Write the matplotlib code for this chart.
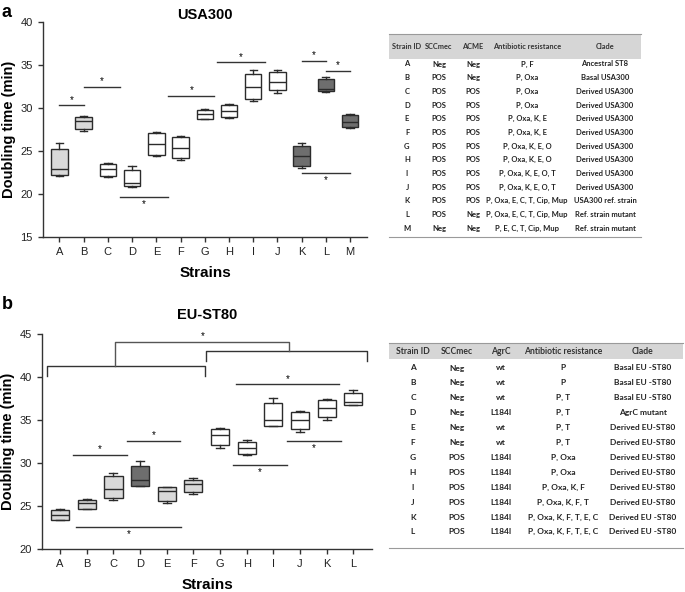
import matplotlib
matplotlib.use("Agg")
import matplotlib.pyplot as plt
from matplotlib.patches import Rectangle

plt.rcParams["font.family"] = ["Liberation Sans", "DejaVu Sans"]

# ---- panel a: USA300 doubling times (min) ----
usa_strains = list("ABCDEFGHIJKLM")
usa_whislo = [22.1, 27.3, 22.0, 20.8, 24.4, 24.0, 28.7, 28.8, 30.8, 31.8, 23.0, 31.9, 27.7]
usa_q1 = [22.2, 27.55, 22.05, 20.9, 24.55, 24.2, 28.75, 28.9, 31.1, 32.1, 23.2, 32.0, 27.8]
usa_med = [22.9, 28.45, 22.9, 21.3, 25.8, 25.3, 29.3, 29.7, 32.4, 33.0, 24.4, 32.2, 28.4]
usa_q3 = [25.2, 28.9, 23.5, 22.8, 27.05, 26.6, 29.8, 30.4, 33.9, 34.2, 25.6, 33.4, 29.15]
usa_whishi = [25.9, 29.05, 23.55, 23.3, 27.2, 26.8, 29.85, 30.5, 34.4, 34.45, 25.9, 33.65, 29.3]
usa_fill = ["light", "light", "white", "white", "white", "white", "white",
            "white", "white", "white", "dark", "dark", "dark"]
# significance bars: (x start, x end, y, star above?)
usa_sig = [(0, 1, 30.3, True), (1, 2.5, 32.5, True), (2.5, 4.5, 19.7, False),
           (4.5, 6.4, 31.4, True), (6.5, 8.5, 35.3, True), (10, 11, 35.45, True),
           (11, 12, 34.3, True), (10, 12, 22.5, False)]

# ---- panel b: EU-ST80 doubling times (min) ----
eu_strains = list("ABCDEFGHIJKL")
eu_whislo = [23.33, 24.6, 25.65, 27.3, 25.3, 26.4, 31.8, 30.9, 34.26, 33.6, 35.04, 36.7]
eu_q1 = [23.4, 24.7, 25.9, 27.36, 25.6, 26.67, 32.1, 31.0, 34.34, 33.9, 35.3, 36.74]
eu_med = [23.9, 25.35, 27.0, 27.98, 26.8, 27.6, 33.3, 31.8, 35.04, 34.96, 36.4, 37.05]
eu_q3 = [24.57, 25.7, 28.45, 29.6, 27.2, 28.06, 33.9, 32.5, 36.98, 35.9, 37.3, 38.1]
eu_whishi = [24.7, 25.8, 28.8, 30.2, 27.25, 28.2, 34.03, 32.7, 37.56, 36.1, 37.5, 38.5]
eu_fill = ["light", "light", "light", "dark", "light", "light",
           "white", "white", "white", "white", "white", "white"]
eu_sig = [(0.5, 2.5, 30.9, True), (2.5, 4.5, 32.6, True), (0.6, 4.55, 22.6, False),
          (6.5, 8.5, 29.8, False), (8.5, 10.55, 32.6, False), (6.6, 10.45, 39.15, True)]
# group brackets: (x start, x end, y top, y tick end)
eu_groups = [(-0.5, 5.45, 41.24, 40.15), (5.48, 11.5, 43.0, 41.9)]
eu_link = (2.04, 8.6, 44.07)

# ---- tables ----
usa_cols = ["Strain ID", "SCCmec", "ACME", "Antibiotic resistance", "Clade"]
usa_sccmec = ["Neg", "POS", "POS", "POS", "POS", "POS", "POS", "POS", "POS", "POS", "POS", "POS", "Neg"]
usa_acme = ["Neg", "Neg", "POS", "POS", "POS", "POS", "POS", "POS", "POS", "POS", "POS", "Neg", "Neg"]
usa_resist = ["P, F", "P, Oxa", "P, Oxa", "P, Oxa", "P, Oxa, K, E", "P, Oxa, K, E",
              "P, Oxa, K, E, O", "P, Oxa, K, E, O", "P, Oxa, K, E, O, T", "P, Oxa, K, E, O, T",
              "P, Oxa, E, C, T, Cip, Mup", "P, Oxa, E, C, T, Cip, Mup", "P, E, C, T, Cip, Mup"]
usa_clade = ["Ancestral ST8", "Basal USA300"] + ["Derived USA300"] * 8 + \
            ["USA300 ref. strain", "Ref. strain mutant", "Ref. strain mutant"]

eu_cols = ["Strain ID", "SCCmec", "AgrC", "Antibiotic resistance", "Clade"]
eu_sccmec = ["Neg"] * 6 + ["POS"] * 6
eu_agrc = ["wt", "wt", "wt", "L184I", "wt", "wt"] + ["L184I"] * 6
eu_resist = ["P", "P", "P, T", "P, T", "P, T", "P, T", "P, Oxa", "P, Oxa", "P, Oxa, K, F",
             "P, Oxa, K, F, T", "P, Oxa, K, F, T, E, C", "P, Oxa, K, F, T, E, C"]
eu_clade = ["Basal EU -ST80"] * 3 + ["AgrC mutant"] + ["Derived EU-ST80"] * 6 + \
           ["Derived EU -ST80", "Derived EU -ST80"]

FILLS = {"light": "#d9d9d9", "dark": "#6e6e6e", "white": "white"}
W, H = 685, 592


def px(x, y):
    return x / W, 1 - y / H


def draw_boxes(ax, lo, q1, med, q3, hi, fills):
    stats = [dict(whislo=a, q1=b, med=c, q3=d, whishi=e)
             for a, b, c, d, e in zip(lo, q1, med, q3, hi)]
    res = ax.bxp(stats, positions=range(len(stats)), widths=0.68, capwidths=0.3,
                 showfliers=False, patch_artist=True,
                 boxprops=dict(edgecolor="#2b2b2b", linewidth=1.0),
                 whiskerprops=dict(color="#2b2b2b", linewidth=1.0),
                 capprops=dict(color="#2b2b2b", linewidth=1.0),
                 medianprops=dict(color="#2b2b2b", linewidth=1.0))
    for box, f in zip(res["boxes"], fills):
        box.set_facecolor(FILLS[f])


def draw_sig(ax, sig):
    for x1, x2, y, above in sig:
        ax.plot([x1, x2], [y, y], color="#333333", lw=1.0, clip_on=False)
        if above:
            ax.annotate("*", xy=((x1 + x2) / 2, y), xytext=(0, 0.5), textcoords="offset points",
                        ha="center", va="bottom", fontsize=7)
        else:
            ax.annotate("*", xy=((x1 + x2) / 2, y), xytext=(0, -1.5), textcoords="offset points",
                        ha="center", va="top", fontsize=7)


def style_axes(ax, labels, ylim, yticks, title, title_pad):
    ax.set_xticks(range(len(labels)))
    ax.set_xticklabels(labels)
    ax.set_ylim(*ylim)
    ax.set_yticks(yticks)
    ax.set_xlim(-0.68, len(labels) - 0.3)
    for s in ("top", "right"):
        ax.spines[s].set_visible(False)
    for s in ("left", "bottom"):
        ax.spines[s].set_linewidth(1.0)
        ax.spines[s].set_color("#333333")
    ax.tick_params(direction="out", length=3.5, width=1.0, color="#333333",
                   labelsize=8, labelcolor="#222222", pad=4)
    ax.set_xlabel("Strains", fontsize=11, fontweight="bold", labelpad=6)
    ax.set_ylabel("Doubling time (min)", fontsize=10.5, fontweight="bold", labelpad=3)
    ax.set_title(title, fontsize=10.5, fontweight="bold", pad=title_pad)


def draw_table(fig, cols, data, xcols, x0, x1, head_top, head_bot, row0, dy, bottom,
               fs, head_fs):
    fig.patches.append(Rectangle(px(x0, head_bot), (x1 - x0) / W, (head_bot - head_top) / H,
                                 transform=fig.transFigure, facecolor="#d6d6d6",
                                 edgecolor="none"))
    fig.add_artist(plt.Line2D([x0 / W, x1 / W], [1 - head_top / H] * 2,
                              transform=fig.transFigure, color="#9a9a9a", lw=0.8))
    fig.add_artist(plt.Line2D([x0 / W, x1 / W], [1 - bottom / H] * 2,
                              transform=fig.transFigure, color="#9a9a9a", lw=0.8))
    hy = (head_top + head_bot) / 2
    for c, xc in zip(cols, xcols):
        fig.text(*px(xc, hy), c, ha="center", va="center", fontsize=head_fs,
                 family=["Lato", "DejaVu Sans"], fontweight="bold", color="#333333")
    for i, row in enumerate(zip(*data)):
        for v, xc in zip(row, xcols):
            fig.text(*px(xc, row0 + i * dy), v, ha="center", va="center", fontsize=fs,
                     family=["Lato", "DejaVu Sans"], fontweight="bold", color="#222222")


fig = plt.figure(figsize=(6.85, 5.92), dpi=100)

# panel a
ax1 = fig.add_axes([43 / W, 1 - 237 / H, (367 - 43) / W, 215 / H])
draw_boxes(ax1, usa_whislo, usa_q1, usa_med, usa_q3, usa_whishi, usa_fill)
style_axes(ax1, usa_strains, (15, 40), range(15, 41, 5), "USA300", 0)
draw_sig(ax1, usa_sig)

# panel b
ax2 = fig.add_axes([42 / W, 1 - 549 / H, (372 - 42) / W, 215 / H])
draw_boxes(ax2, eu_whislo, eu_q1, eu_med, eu_q3, eu_whishi, eu_fill)
style_axes(ax2, eu_strains, (20, 45), range(20, 46, 5), "EU-ST80", 11)
draw_sig(ax2, eu_sig)
for x1, x2, ytop, yend in eu_groups:
    ax2.plot([x1, x1, x2, x2], [yend, ytop, ytop, yend], color="#333333", lw=1.0, clip_on=False)
lx1, lx2, ly = eu_link
ax2.plot([lx1, lx1, lx2, lx2], [eu_groups[0][2], ly, ly, eu_groups[1][2]],
         color="#555555", lw=1.0, clip_on=False)
ax2.annotate("*", xy=(5.34, ly), xytext=(0, 0.5), textcoords="offset points",
             ha="center", va="bottom", fontsize=7)

fig.text(*px(2, 4), "a", fontsize=13, fontweight="bold", va="top", ha="left")
fig.text(*px(2, 296), "b", fontsize=13, fontweight="bold", va="top", ha="left")

draw_table(fig, usa_cols, [usa_strains, usa_sccmec, usa_acme, usa_resist, usa_clade],
           [407, 439, 473, 527, 605], 389, 641, 34, 59, 64, 13.67, 237, 5.5, 5.3)
draw_table(fig, eu_cols, [eu_strains, eu_sccmec, eu_agrc, eu_resist, eu_clade],
           [413, 457, 501, 563, 643], 389, 683, 343, 359, 368, 14.9, 548, 6.0, 6.2)

fig.savefig("out.png", dpi=100)
